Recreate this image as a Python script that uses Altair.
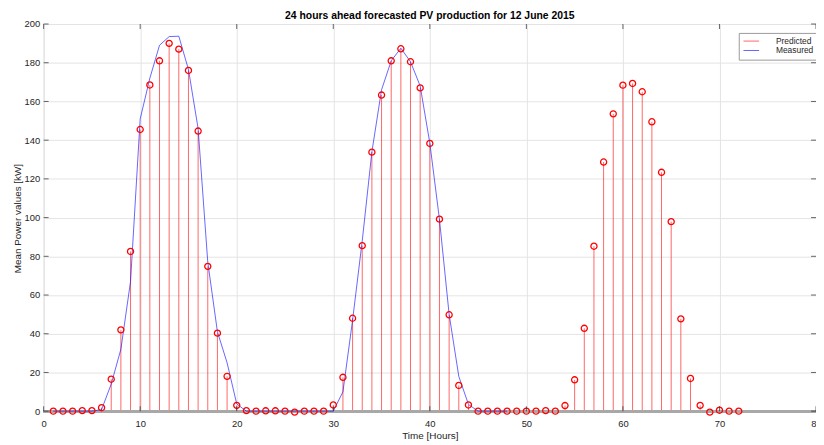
import altair as alt
import pandas as pd

hours_pred = list(range(1, 73))
predicted = [0, 0, 0, 0.3, 0.3, 1.8, 16.5, 42, 82.5, 145.5,
             168.5, 181, 190, 187, 176, 144.7, 74.8, 40.3, 18, 3,
             0.3, 0, 0.2, 0.2, 0, -0.5, 0, 0, 0, 3.2,
             17.5, 48, 85.5, 133.8, 163.3, 181, 187.2, 180.5, 167, 138.3,
             99.2, 49.8, 13.3, 3.2, 0, 0, 0, 0, 0, 0,
             0, 0.3, 0, 2.9, 16.2, 42.8, 85.2, 128.7, 153.6, 168.4,
             169.3, 165, 149.5, 123.4, 97.9, 47.7, 16.9, 3, -0.5, 0.5, 0, 0]
hours_meas = list(range(1, 49))
measured = [0, 0, 0, 0, 0, 0.8, 14, 32, 67, 151,
            172, 189, 193.5, 193.7, 176.5, 146, 77, 41, 25, 3.7,
            0, 0, 0, 0, 0, 0, 0, 0, 0, 0,
            10, 47, 88, 134, 166, 181, 187.5, 180.5, 168, 138.5,
            99, 50, 18, 3.5, 0, 0, 0, 0]
x_ticks = list(range(0, 81, 10))
y_ticks = list(range(0, 201, 20))
series_names = ["Predicted", "Measured"]
series_colors = ["#ff0000", "#0000ff"]

FONT = "Liberation Sans"
TXT = "#262626"

pred_df = pd.DataFrame({"hour": hours_pred, "value": predicted, "series": series_names[0]})
meas_df = pd.DataFrame({"hour": hours_meas, "value": measured, "series": series_names[1]})
xt_df = pd.DataFrame({"tick": x_ticks})
yt_df = pd.DataFrame({"tick": y_ticks})

xscale = alt.Scale(domain=[0, 80], nice=False, zero=False)
yscale = alt.Scale(domain=[0, 200], nice=False)
cscale = alt.Scale(domain=series_names, range=series_colors)

# tickCount must not be smaller than the number of explicit values,
# otherwise Vega thins the ticks out.
x_axis = alt.Axis(values=x_ticks, tickCount=len(x_ticks) + 2, title="Time [Hours]", grid=True,
                  gridColor="#e4e4e4", domain=False, ticks=False,
                  labelPadding=7, labelFontSize=9.5, labelFont=FONT, labelColor=TXT,
                  titleFont=FONT, titleFontSize=10, titleFontWeight="normal", titleColor=TXT,
                  titleX=390, titleY=25, titleBaseline="middle", titleAlign="center",
                  labelFlush=False, labelOverlap=False)
y_axis = alt.Axis(values=y_ticks, tickCount=len(y_ticks) + 2, title="Mean Power values [kW]",
                  grid=True, gridColor="#e4e4e4", domain=False, ticks=False,
                  labelPadding=4, labelFontSize=9.5, labelFont=FONT, labelColor=TXT,
                  titleFont=FONT, titleFontSize=10, titleFontWeight="normal", titleColor=TXT,
                  titleX=-26.5, titleY=196, titleBaseline="middle", titleAlign="center",
                  titleAngle=270, labelFlush=False, labelOverlap=False)

legend = alt.Legend(orient="none", legendX=702, legendY=9, title=None,
                    strokeColor="#9a9a9a", fillColor="white", padding=4,
                    symbolType="M-1,0H3.5", symbolSize=49, symbolStrokeWidth=1,
                    symbolOpacity=0.6, labelOffset=25, rowPadding=0.5,
                    labelFont=FONT, labelFontSize=8.5, labelColor=TXT)

stems = alt.Chart(pred_df).mark_rule(strokeWidth=1, strokeOpacity=0.6).encode(
    x=alt.X("hour:Q", scale=xscale, axis=x_axis),
    y=alt.Y("value:Q", scale=yscale, axis=y_axis),
    y2=alt.datum(0),
    color=alt.Color("series:N", scale=cscale, legend=legend),
)
baseline = alt.Chart(pred_df).mark_rule(color="#a8a8a8", strokeWidth=2.5).encode(
    y=alt.datum(0)
)
line = alt.Chart(meas_df).mark_line(strokeWidth=1, strokeOpacity=0.6).encode(
    x=alt.X("hour:Q"),
    y=alt.Y("value:Q"),
    color=alt.Color("series:N"),
)
points = alt.Chart(pred_df).mark_point(shape="circle", filled=False, color="#ff0000",
                                       size=38, strokeWidth=1.3, opacity=1).encode(
    x=alt.X("hour:Q"),
    y=alt.Y("value:Q"),
)
# inward ticks on the four edges of the box
top_ticks = alt.Chart(xt_df).mark_tick(orient="vertical", size=5, yOffset=2.5,
                                       color=TXT, thickness=1).encode(
    x=alt.X("tick:Q"), y=alt.datum(200))
bottom_ticks = alt.Chart(xt_df).mark_tick(orient="vertical", size=5, yOffset=-2.5,
                                          color=TXT, thickness=1).encode(
    x=alt.X("tick:Q"), y=alt.datum(0))
right_ticks = alt.Chart(yt_df).mark_tick(orient="horizontal", size=5, xOffset=-2.5,
                                         color=TXT, thickness=1).encode(
    y=alt.Y("tick:Q"), x=alt.datum(80))
left_ticks = alt.Chart(yt_df).mark_tick(orient="horizontal", size=5, xOffset=2.5,
                                        color=TXT, thickness=1).encode(
    y=alt.Y("tick:Q"), x=alt.datum(0))

chart = alt.layer(stems, baseline, line, points, top_ticks, bottom_ticks,
                  right_ticks, left_ticks).properties(
    width=780, height=391,
    autosize=alt.AutoSizeParams(type="none"),
    padding={"left": 36, "top": 14, "right": 0, "bottom": 32},
    title=alt.TitleParams(text="24 hours ahead forecasted PV production for 12 June 2015",
                          font=FONT, fontSize=10.5, fontWeight="bold", color="#000000",
                          anchor="middle", offset=2, dy=4),
).configure_view(stroke="#999999", strokeWidth=1).configure_axis(
    labelOverlap=False
).configure(background="white")

chart.save("out.html", embed_options={"renderer": "svg", "actions": False})
